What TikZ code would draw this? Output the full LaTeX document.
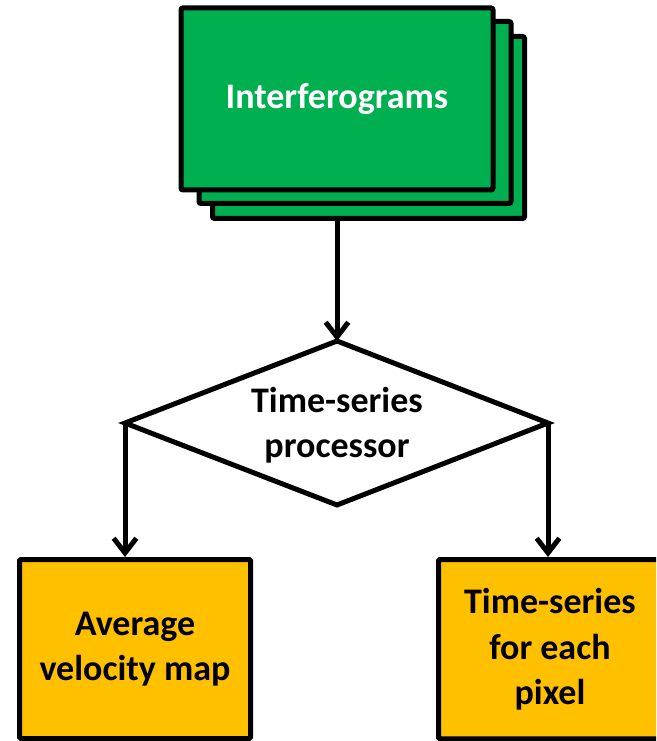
\documentclass[tikz,border=0pt]{standalone}
\usepackage{fontspec}
\setmainfont{Carlito}
\usetikzlibrary{arrows.meta}
\definecolor{boxgreen}{HTML}{00B050}
\definecolor{boxgold}{HTML}{FFC000}
\tikzset{
  stackbox/.style={draw=black, line width=3.75pt, fill=boxgreen, rounded corners=1.5pt,
    minimum width=234pt, minimum height=136.5pt, inner sep=0pt},
  outbox/.style={draw=black, line width=3.75pt, fill=boxgold, rounded corners=1pt,
    inner sep=0pt, align=center, font=\fontsize{27pt}{34pt}\selectfont\bfseries},
  lbl/.style={align=center, inner sep=0pt, font=\fontsize{27pt}{34pt}\selectfont\bfseries},
  arr/.style={line width=3.75pt, -{Straight Barb[length=11pt,width=17pt]}},
  dline/.style={line width=3.75pt, line join=miter}
}
\begin{document}
\begin{tikzpicture}[x=0.75pt, y=-0.75pt]
\useasboundingbox (0,0) rectangle (656,741);
\clip (0,0) rectangle (656,741);
% stacked interferograms
\node[stackbox] (back) at (368.5,127.5) {};
\node[stackbox] (mid) at (355,112.5) {};
\node[stackbox, lbl, text=white] (front) at (337,99) {Interferograms};
% diamond
\coordinate (dtop) at (337,341);
\coordinate (dleft) at (125,423);
\coordinate (dright) at (548,423);
\coordinate (dbot) at (337,505);
\draw[dline] (dtop) -- (dright) -- (dbot) -- (dleft) -- cycle;
\node[lbl] (proc) at (337,425) {Time-series\\processor};
% output boxes
\node[outbox, minimum width=173.25pt, minimum height=134.25pt] (avg) at (135,649) {Average\\velocity map};
\node[outbox, minimum width=187.5pt, minimum height=134.6pt] (ts) at (563.5,649.25) {};
\node[lbl] (tstext) at (550,649.25) {Time-series\\for each\\pixel};
% connectors
\draw[arr] (front.south |- back.south) -- (dtop);
\draw[arr] (dleft) -- (dleft |- avg.north);
\draw[arr] (dright) -- (dright |- ts.north);
\end{tikzpicture}
\end{document}
